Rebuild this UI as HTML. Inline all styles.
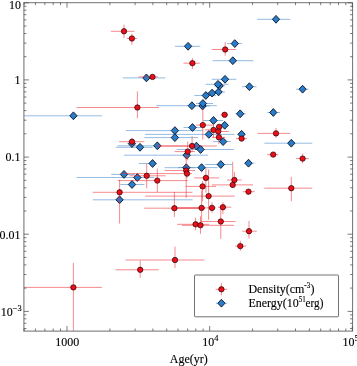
<!DOCTYPE html>
<html><head><meta charset="utf-8"><title>chart</title>
<style>html,body{margin:0;padding:0;background:#fff}svg{display:block;will-change:transform}</style>
</head><body>
<svg width="357" height="366" viewBox="0 0 357 366">
<rect width="357" height="366" fill="#fff"/>
<g stroke="#4f90d2" stroke-width="0.75" stroke-opacity="0.8" fill="none">
<path d="M24.0 115.8H101.9"/>
<path d="M122.9 77.9H165.4"/>
<path d="M174.8 46.3H200.3"/>
<path d="M226.9 43.6H242.0"/>
<path d="M212.6 60.7H253.4"/>
<path d="M257.1 19.3H290.3"/>
<path d="M156.2 105.7H216.8"/>
<path d="M196.0 106.0H210.0"/>
<path d="M196.0 103.5H213.2"/>
<path d="M194.4 95.5H216.0"/>
<path d="M206.0 93.1H218.0"/>
<path d="M212.0 91.9H225.1"/>
<path d="M214.0 85.9H225.0"/>
<path d="M205.8 84.3H228.6"/>
<path d="M211.8 79.3H236.3"/>
<path d="M242.1 86.7H256.5"/>
<path d="M296.0 89.2H308.6"/>
<path d="M235.5 113.8H245.7"/>
<path d="M267.3 112.5H280.0"/>
<path d="M203.2 120.5H223.2"/>
<path d="M183.5 127.5H200.8"/>
<path d="M219.0 125.3H229.0"/>
<path d="M125.8 130.6H202.8"/>
<path d="M144.3 137.6H198.0"/>
<path d="M145.0 134.4H234.6"/>
<path d="M212.9 141.6H231.1"/>
<path d="M238.5 134.3H244.7"/>
<path d="M129.0 143.6H135.0"/>
<path d="M115.7 147.3H152.5"/>
<path d="M117.6 145.8H158.0"/>
<path d="M190.0 146.1H203.0"/>
<path d="M176.8 149.5H233.9"/>
<path d="M124.0 155.2H208.2"/>
<path d="M138.8 163.5H157.0"/>
<path d="M164.6 167.7H195.5"/>
<path d="M178.0 167.6H217.6"/>
<path d="M204.8 164.5H232.0"/>
<path d="M244.6 163.2H254.4"/>
<path d="M264.4 143.2H312.3"/>
<path d="M111.3 174.4H135.0"/>
<path d="M76.7 177.5H154.2"/>
<path d="M120.3 184.5H144.4"/>
<path d="M92.7 199.8H192.6"/>
</g>
<g fill="#2a7bc8" stroke="#061226" stroke-width="0.9">
<path d="M69.8 115.8L73.4 111.9L77.1 115.8L73.4 119.7Z"/>
<path d="M142.8 77.9L146.4 74.0L150.1 77.9L146.4 81.8Z"/>
<path d="M184.4 46.3L188.1 42.4L191.8 46.3L188.1 50.2Z"/>
<path d="M231.2 43.6L234.8 39.7L238.5 43.6L234.8 47.5Z"/>
<path d="M229.2 60.7L232.8 56.8L236.5 60.7L232.8 64.6Z"/>
<path d="M272.4 19.3L276.0 15.4L279.6 19.3L276.0 23.2Z"/>
<path d="M188.2 105.7L191.9 101.8L195.6 105.7L191.9 109.6Z"/>
<path d="M198.9 106.0L202.6 102.1L206.2 106.0L202.6 109.9Z"/>
<path d="M199.2 103.5L202.9 99.6L206.6 103.5L202.9 107.4Z"/>
<path d="M202.2 95.5L205.8 91.6L209.5 95.5L205.8 99.4Z"/>
<path d="M208.4 93.1L212.1 89.2L215.8 93.1L212.1 97.0Z"/>
<path d="M214.9 91.9L218.6 88.0L222.2 91.9L218.6 95.8Z"/>
<path d="M215.8 85.9L219.5 82.0L223.2 85.9L219.5 89.8Z"/>
<path d="M214.3 84.3L218.0 80.4L221.7 84.3L218.0 88.2Z"/>
<path d="M221.3 79.3L225.0 75.4L228.7 79.3L225.0 83.2Z"/>
<path d="M245.8 86.7L249.4 82.8L253.1 86.7L249.4 90.6Z"/>
<path d="M299.0 89.2L302.6 85.3L306.2 89.2L302.6 93.1Z"/>
<path d="M236.5 113.8L240.2 109.9L243.8 113.8L240.2 117.7Z"/>
<path d="M269.7 112.5L273.3 108.6L276.9 112.5L273.3 116.4Z"/>
<path d="M209.8 120.5L213.5 116.6L217.2 120.5L213.5 124.4Z"/>
<path d="M188.8 127.5L192.5 123.6L196.2 127.5L192.5 131.4Z"/>
<path d="M221.0 125.3L224.7 121.4L228.3 125.3L224.7 129.2Z"/>
<path d="M171.2 130.6L174.9 126.7L178.6 130.6L174.9 134.5Z"/>
<path d="M171.2 137.6L174.9 133.7L178.6 137.6L174.9 141.5Z"/>
<path d="M205.2 134.4L208.9 130.5L212.6 134.4L208.9 138.3Z"/>
<path d="M219.4 141.6L223.1 137.7L226.8 141.6L223.1 145.5Z"/>
<path d="M237.9 134.3L241.6 130.4L245.2 134.3L241.6 138.2Z"/>
<path d="M128.2 143.6L131.9 139.7L135.6 143.6L131.9 147.5Z"/>
<path d="M136.3 147.3L140.0 143.4L143.7 147.3L140.0 151.2Z"/>
<path d="M153.7 145.8L157.3 141.9L161.0 145.8L157.3 149.7Z"/>
<path d="M192.8 146.1L196.4 142.2L200.1 146.1L196.4 150.0Z"/>
<path d="M196.9 149.5L200.6 145.6L204.2 149.5L200.6 153.4Z"/>
<path d="M183.0 155.2L186.7 151.3L190.3 155.2L186.7 159.1Z"/>
<path d="M148.9 163.5L152.6 159.6L156.2 163.5L152.6 167.4Z"/>
<path d="M182.7 167.7L186.3 163.8L190.0 167.7L186.3 171.6Z"/>
<path d="M197.9 167.6L201.6 163.7L205.2 167.6L201.6 171.5Z"/>
<path d="M217.2 164.5L220.8 160.6L224.5 164.5L220.8 168.4Z"/>
<path d="M244.8 163.2L248.5 159.3L252.2 163.2L248.5 167.1Z"/>
<path d="M287.7 143.2L291.3 139.3L294.9 143.2L291.3 147.1Z"/>
<path d="M120.3 174.4L124.0 170.5L127.7 174.4L124.0 178.3Z"/>
<path d="M133.7 177.5L137.3 173.6L141.0 177.5L137.3 181.4Z"/>
<path d="M128.3 184.5L132.0 180.6L135.7 184.5L132.0 188.4Z"/>
<path d="M115.9 199.8L119.6 195.9L123.2 199.8L119.6 203.7Z"/>
</g>
<g stroke="#ee2630" stroke-width="0.68" stroke-opacity="0.8" fill="none">
<path d="M110.9 31.3H134.5M124.0 24.6V38.0"/>
<path d="M126.9 38.5H137.0M131.9 33.8V44.8"/>
<path d="M183.5 63.2H199.8M192.4 58.1V69.0"/>
<path d="M211.8 49.5H236.1M225.2 42.2V55.7"/>
<path d="M138.5 76.9H157.9M152.5 75.9V77.9"/>
<path d="M76.7 107.5H159.0M137.4 91.4V118.3"/>
<path d="M220.8 114.8H228.0M224.6 112.8V116.8"/>
<path d="M196.0 125.1H213.6M202.8 108.7V139.7"/>
<path d="M216.0 126.9H222.0M219.1 124.3V129.3"/>
<path d="M205.0 129.9H222.0M213.5 124.3V137.8"/>
<path d="M210.0 131.5H228.8M218.2 128.3V134.3"/>
<path d="M211.8 137.3H225.3M218.9 132.3V143.9"/>
<path d="M236.0 138.6H247.0M241.6 136.3V140.8"/>
<path d="M257.4 133.4H290.3M276.0 127.9V137.8"/>
<path d="M119.1 141.7H144.3M132.0 137.8V145.3"/>
<path d="M157.0 146.0H216.8M192.1 136.2V152.1"/>
<path d="M174.6 151.6H195.0M187.7 141.6V160.3"/>
<path d="M267.2 154.6H278.2M273.2 152.8V156.3"/>
<path d="M296.0 158.6H308.9M302.6 153.5V163.4"/>
<path d="M164.6 170.5H195.0M186.2 155.3V197.9"/>
<path d="M121.2 173.6H192.0M187.0 168.3V178.3"/>
<path d="M129.6 175.8H165.6M146.7 163.7V188.3"/>
<path d="M117.7 180.6H187.9M157.3 168.7V192.3"/>
<path d="M92.7 192.3H192.4M119.6 179.8V223.6"/>
<path d="M194.3 177.9H219.4M205.9 167.9V192.7"/>
<path d="M227.0 180.0H241.7M234.4 172.1V186.3"/>
<path d="M212.0 184.9H253.0M232.7 161.8V187.8"/>
<path d="M185.5 186.4H216.1M202.6 181.0V201.3"/>
<path d="M145.1 196.1H234.8M208.6 169.5V219.8"/>
<path d="M242.6 191.7H254.8M248.5 189.8V193.8"/>
<path d="M264.2 188.2H312.2M291.3 176.9V201.2"/>
<path d="M144.2 208.2H205.0M174.4 191.9V216.9"/>
<path d="M175.0 207.9H207.5M201.6 190.3V222.3"/>
<path d="M207.5 207.9H215.9M212.0 202.3V212.8"/>
<path d="M218.0 207.2H231.3M222.9 202.3V214.2"/>
<path d="M201.2 221.5H235.6M220.8 208.6V238.9"/>
<path d="M177.1 224.3H208.9M195.6 217.7V230.3"/>
<path d="M182.0 225.3H234.0M200.5 216.3V233.8"/>
<path d="M242.3 231.2H256.8M249.0 220.9V238.5"/>
<path d="M235.3 246.1H246.2M240.3 240.9V250.8"/>
<path d="M125.6 260.0H204.5M175.0 246.6V268.1"/>
<path d="M115.5 269.8H158.7M140.2 260.5V277.7"/>
<path d="M24.0 287.4H101.9M73.4 263.0V331.3"/>
</g>
<path d="M175 208H201.6M157.3 146H192" stroke="#ee2630" stroke-width="0.68" stroke-opacity="0.8"/>
<g fill="#ea0f18" stroke="#2a0204" stroke-width="0.7">
<circle cx="124.0" cy="31.3" r="2.7"/>
<circle cx="131.9" cy="38.5" r="2.7"/>
<circle cx="192.4" cy="63.2" r="2.7"/>
<circle cx="225.2" cy="49.5" r="2.7"/>
<circle cx="152.5" cy="76.9" r="2.7"/>
<circle cx="137.4" cy="107.5" r="2.7"/>
<circle cx="224.6" cy="114.8" r="2.7"/>
<circle cx="202.8" cy="125.1" r="2.7"/>
<circle cx="219.1" cy="126.9" r="2.7"/>
<circle cx="213.5" cy="129.9" r="2.7"/>
<circle cx="218.2" cy="131.5" r="2.7"/>
<circle cx="218.9" cy="137.3" r="2.7"/>
<circle cx="241.6" cy="138.6" r="2.7"/>
<circle cx="276.0" cy="133.4" r="2.7"/>
<circle cx="132.0" cy="141.7" r="2.7"/>
<circle cx="192.1" cy="146.0" r="2.7"/>
<circle cx="187.7" cy="151.6" r="2.7"/>
<circle cx="273.2" cy="154.6" r="2.7"/>
<circle cx="302.6" cy="158.6" r="2.7"/>
<circle cx="186.2" cy="170.5" r="2.7"/>
<circle cx="187.0" cy="173.6" r="2.7"/>
<circle cx="146.7" cy="175.8" r="2.7"/>
<circle cx="157.3" cy="180.6" r="2.7"/>
<circle cx="119.6" cy="192.3" r="2.7"/>
<circle cx="205.9" cy="177.9" r="2.7"/>
<circle cx="234.4" cy="180.0" r="2.7"/>
<circle cx="232.7" cy="184.9" r="2.7"/>
<circle cx="202.6" cy="186.4" r="2.7"/>
<circle cx="208.6" cy="196.1" r="2.7"/>
<circle cx="248.5" cy="191.7" r="2.7"/>
<circle cx="291.3" cy="188.2" r="2.7"/>
<circle cx="174.4" cy="208.2" r="2.7"/>
<circle cx="201.6" cy="207.9" r="2.7"/>
<circle cx="212.0" cy="207.9" r="2.7"/>
<circle cx="222.9" cy="207.2" r="2.7"/>
<circle cx="220.8" cy="221.5" r="2.7"/>
<circle cx="195.6" cy="224.3" r="2.7"/>
<circle cx="200.5" cy="225.3" r="2.7"/>
<circle cx="249.0" cy="231.2" r="2.7"/>
<circle cx="240.3" cy="246.1" r="2.7"/>
<circle cx="175.0" cy="260.0" r="2.7"/>
<circle cx="140.2" cy="269.8" r="2.7"/>
<circle cx="73.4" cy="287.4" r="2.7"/>
</g>
<g stroke="#8a8a8a" fill="none">
<path d="M23.9 2.2V331.0H353.1" stroke="#8a8a8a" stroke-width="1.25"/>
<path d="M23.9 2.7H352.6V331.0" stroke="#707070" stroke-width="1.0"/>
<path d="M67.0 331.0v-5M67.0 2.7v5M109.9 331.0v-2.5M109.9 2.7v2.5M135.1 331.0v-2.5M135.1 2.7v2.5M152.9 331.0v-2.5M152.9 2.7v2.5M166.7 331.0v-2.5M166.7 2.7v2.5M178.0 331.0v-2.5M178.0 2.7v2.5M187.6 331.0v-2.5M187.6 2.7v2.5M195.8 331.0v-2.5M195.8 2.7v2.5M203.1 331.0v-2.5M203.1 2.7v2.5M209.7 331.0v-5M209.7 2.7v5M252.6 331.0v-2.5M252.6 2.7v2.5M277.7 331.0v-2.5M277.7 2.7v2.5M295.5 331.0v-2.5M295.5 2.7v2.5M309.4 331.0v-2.5M309.4 2.7v2.5M320.7 331.0v-2.5M320.7 2.7v2.5M330.2 331.0v-2.5M330.2 2.7v2.5M338.5 331.0v-2.5M338.5 2.7v2.5M345.8 331.0v-2.5M345.8 2.7v2.5M352.3 331.0v-5M352.3 2.7v5M24.1 331.0v-2.5M24.1 2.7v2.5M35.4 331.0v-2.5M35.4 2.7v2.5M44.9 331.0v-2.5M44.9 2.7v2.5M53.2 331.0v-2.5M53.2 2.7v2.5M60.5 331.0v-2.5M60.5 2.7v2.5M23.9 328.5h2.5M352.6 328.5h-2.5M23.9 323.3h2.5M352.6 323.3h-2.5M23.9 318.8h2.5M352.6 318.8h-2.5M23.9 314.9h2.5M352.6 314.9h-2.5M23.9 311.4h5M352.6 311.4h-5M23.9 288.1h2.5M352.6 288.1h-2.5M23.9 274.5h2.5M352.6 274.5h-2.5M23.9 264.9h2.5M352.6 264.9h-2.5M23.9 257.4h2.5M352.6 257.4h-2.5M23.9 251.3h2.5M352.6 251.3h-2.5M23.9 246.2h2.5M352.6 246.2h-2.5M23.9 241.7h2.5M352.6 241.7h-2.5M23.9 237.7h2.5M352.6 237.7h-2.5M23.9 234.2h5M352.6 234.2h-5M23.9 211.0h2.5M352.6 211.0h-2.5M23.9 197.4h2.5M352.6 197.4h-2.5M23.9 187.8h2.5M352.6 187.8h-2.5M23.9 180.3h2.5M352.6 180.3h-2.5M23.9 174.2h2.5M352.6 174.2h-2.5M23.9 169.0h2.5M352.6 169.0h-2.5M23.9 164.5h2.5M352.6 164.5h-2.5M23.9 160.6h2.5M352.6 160.6h-2.5M23.9 157.1h5M352.6 157.1h-5M23.9 133.8h2.5M352.6 133.8h-2.5M23.9 120.2h2.5M352.6 120.2h-2.5M23.9 110.6h2.5M352.6 110.6h-2.5M23.9 103.1h2.5M352.6 103.1h-2.5M23.9 97.0h2.5M352.6 97.0h-2.5M23.9 91.9h2.5M352.6 91.9h-2.5M23.9 87.4h2.5M352.6 87.4h-2.5M23.9 83.4h2.5M352.6 83.4h-2.5M23.9 79.9h5M352.6 79.9h-5M23.9 56.7h2.5M352.6 56.7h-2.5M23.9 43.1h2.5M352.6 43.1h-2.5M23.9 33.5h2.5M352.6 33.5h-2.5M23.9 26.0h2.5M352.6 26.0h-2.5M23.9 19.9h2.5M352.6 19.9h-2.5M23.9 14.7h2.5M352.6 14.7h-2.5M23.9 10.2h2.5M352.6 10.2h-2.5M23.9 6.3h2.5M352.6 6.3h-2.5M23.9 2.8h5M352.6 2.8h-5" stroke="#505050" stroke-width="0.75"/>
</g>
<rect x="194.5" y="275" width="144" height="41.8" rx="0.8" fill="#fff" stroke="#444" stroke-width="0.75"/>
<path d="M216 303.2H227.2" stroke="#4f90d2" stroke-width="0.75" stroke-opacity="0.8"/>
<path d="M217.8 303.2L221.4 299.3L225.1 303.2L221.4 307.1Z" fill="#2a7bc8" stroke="#061226" stroke-width="0.9"/>
<path d="M215.7 289.3H227.1M221.4 283.2V295.3" stroke="#ee2630" stroke-width="0.68" stroke-opacity="0.8"/>
<circle cx="221.4" cy="289.3" r="2.7" fill="#ea0f18" stroke="#2a0204" stroke-width="0.7"/>
<g font-family="'Liberation Serif', serif" font-size="12px" fill="#000" stroke="#000" stroke-width="0.12">
<text transform="translate(248.4 292.9) scale(1 1.05)">Density(cm<tspan font-size="7px" dy="-4.8">-3</tspan><tspan dy="4.8" dx="0.4">)</tspan></text>
<text transform="translate(248.4 306.7) scale(1 1.05)">Energy(10<tspan font-size="7px" dy="-4.8">51</tspan></text>
<text transform="translate(305.6 306.7) scale(1 1.05)"><tspan textLength="17.8" lengthAdjust="spacingAndGlyphs">erg)</tspan></text>
<text transform="translate(21 8.5) scale(1 1.05)" text-anchor="end">10</text>
<text transform="translate(20.5 84) scale(1 1.05)" text-anchor="end">1</text>
<text transform="translate(20.5 161.3) scale(1 1.05)" text-anchor="end">0.1</text>
<text transform="translate(20.5 238.9) scale(1 1.05)" text-anchor="end">0.01</text>
<text transform="translate(0.8 315.7) scale(1 1.05)">10<tspan font-size="8.4px" dy="-4.8">−3</tspan></text>
<text transform="translate(67.3 345.6) scale(1 1.05)" text-anchor="middle">1000</text>
<text transform="translate(202.2 345.7) scale(1 1.05)">10<tspan font-size="8.4px" dy="-4.8">4</tspan></text>
<text transform="translate(342.6 345.6) scale(1 1.05)">10<tspan font-size="8.4px" dy="-4.8">5</tspan></text>
<text transform="translate(188.8 363) scale(1 1.05)" text-anchor="middle">Age(yr)</text>
</g>
</svg>
</body></html>
